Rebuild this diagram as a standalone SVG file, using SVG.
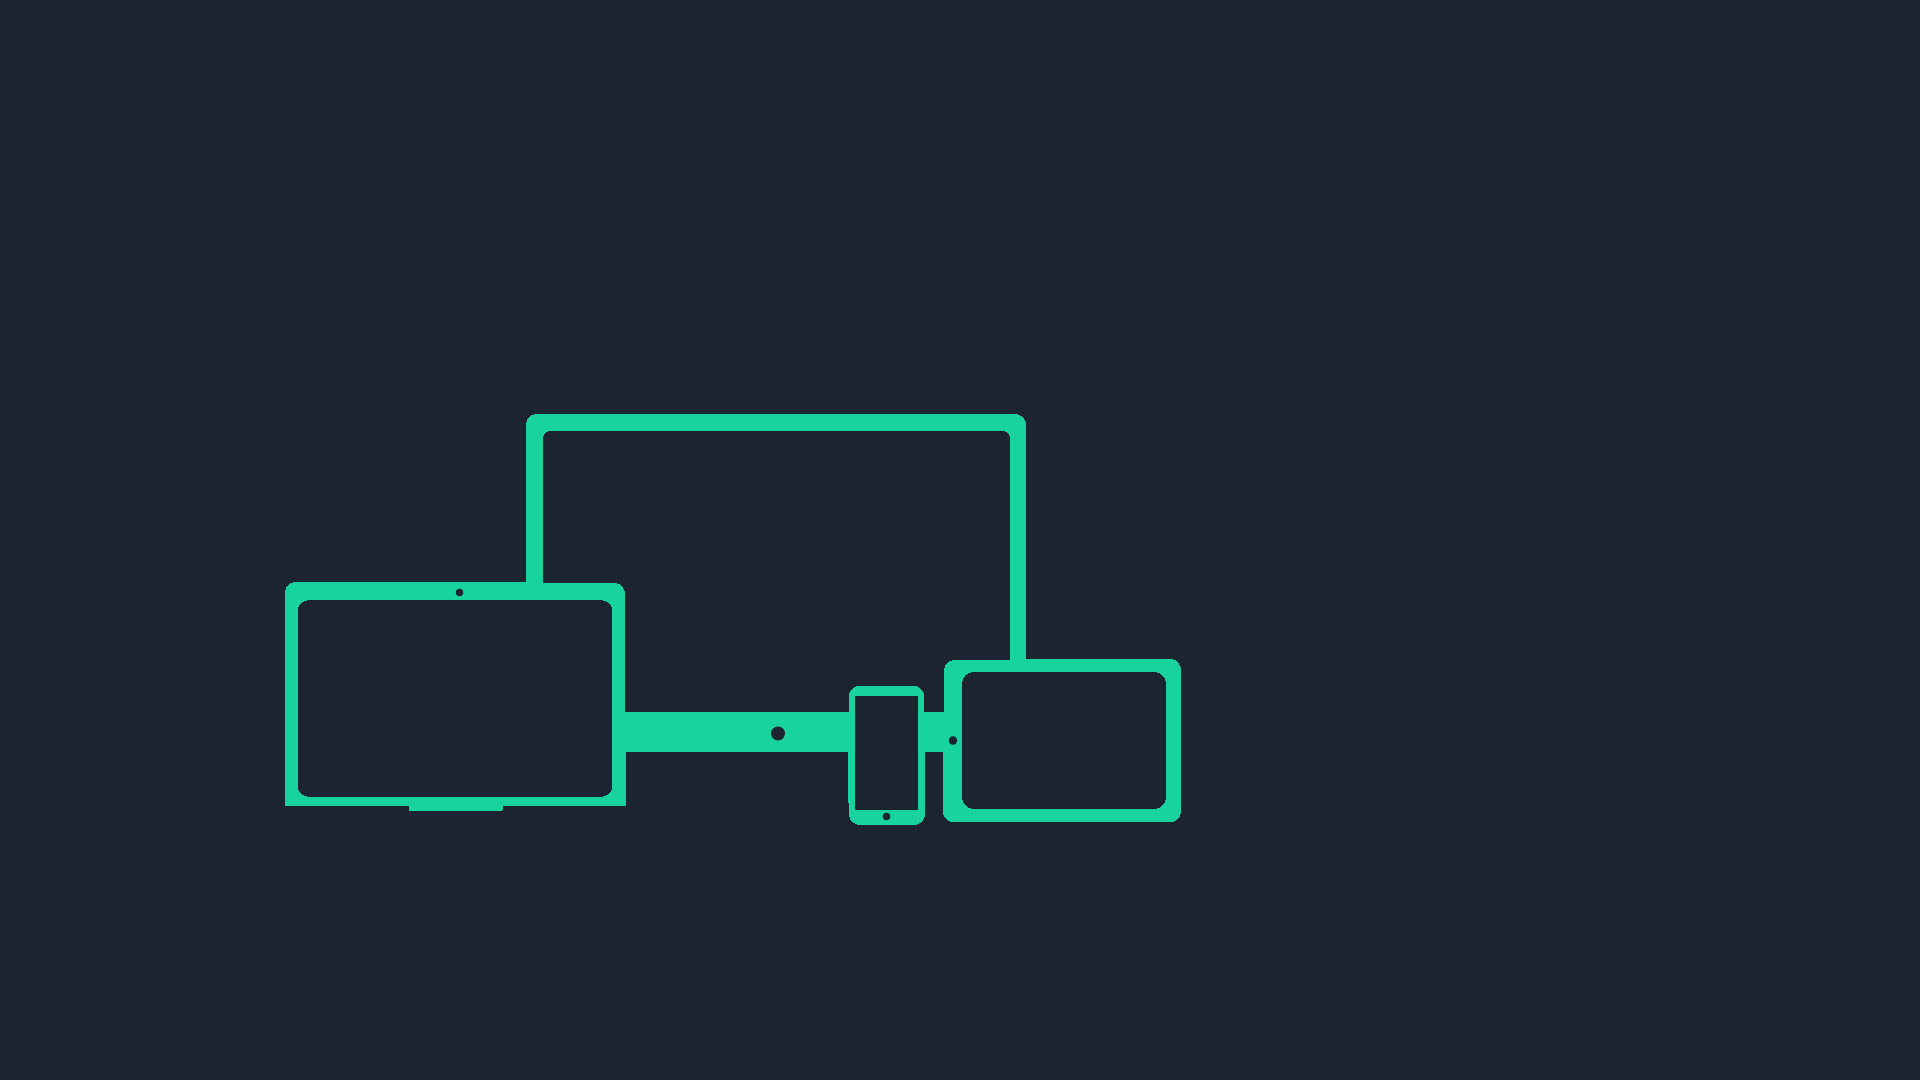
<svg xmlns="http://www.w3.org/2000/svg" width="1920" height="1080" viewBox="0 0 1920 1080" shape-rendering="crispEdges">
  <style>
    .body { fill: #19d39e; fill-rule: evenodd; }
    .cut { fill: #1c2331; }
    circle.cut { shape-rendering: geometricPrecision; }
  </style>
  <rect width="1920" height="1080" fill="#1c2331"/>
  <g id="monitor">
    <path class="body" d="M526 584V425A11 11 0 0 1 537 414H1015A11 11 0 0 1 1026 425V662H1010V438A8 7 0 0 0 1002 431H551A8 7 0 0 0 543 438V584Z"/>
    <rect class="body" x="620" y="712" width="330" height="40"/>
    <circle class="cut" cx="778" cy="733.500" r="7"/>
  </g>
  <g id="laptop">
    <path class="body" d="M285 806V593A11 11 0 0 1 296 582H543V583H614A11 11 0 0 1 625 594V712H626V806ZM298 609V788A13 9 0 0 0 311 797H599A13 9 0 0 0 612 788V609A13 9 0 0 0 599 600H311A13 9 0 0 0 298 609Z"/>
    <path class="body" d="M409 805H503V809L502 811H409Z"/>
    <circle class="cut" cx="459.500" cy="592.500" r="3.700"/>
  </g>
  <g id="phone">
    <path class="body" d="M849 712V696A10 10 0 0 1 859 686H914A10 10 0 0 1 924 696V712H925V814A11 11 0 0 1 914 825H860A11 11 0 0 1 849 814V803H848V752H849Z"/>
    <rect class="cut" x="855" y="696" width="63" height="114"/>
    <circle class="cut" cx="886.500" cy="816.500" r="3.700"/>
  </g>
  <g id="tablet">
    <path class="body" d="M943 752V812A10 10 0 0 0 953 822H1171A10 10 0 0 0 1181 812V670A11 11 0 0 0 1170 659H1010V660H955A11 11 0 0 0 944 671V752ZM962 684V797A12 12 0 0 0 974 809H1154A12 12 0 0 0 1166 797V684A12 12 0 0 0 1154 672H974A12 12 0 0 0 962 684Z"/>
    <circle class="cut" cx="953" cy="740.500" r="4.200"/>
  </g>
</svg>
